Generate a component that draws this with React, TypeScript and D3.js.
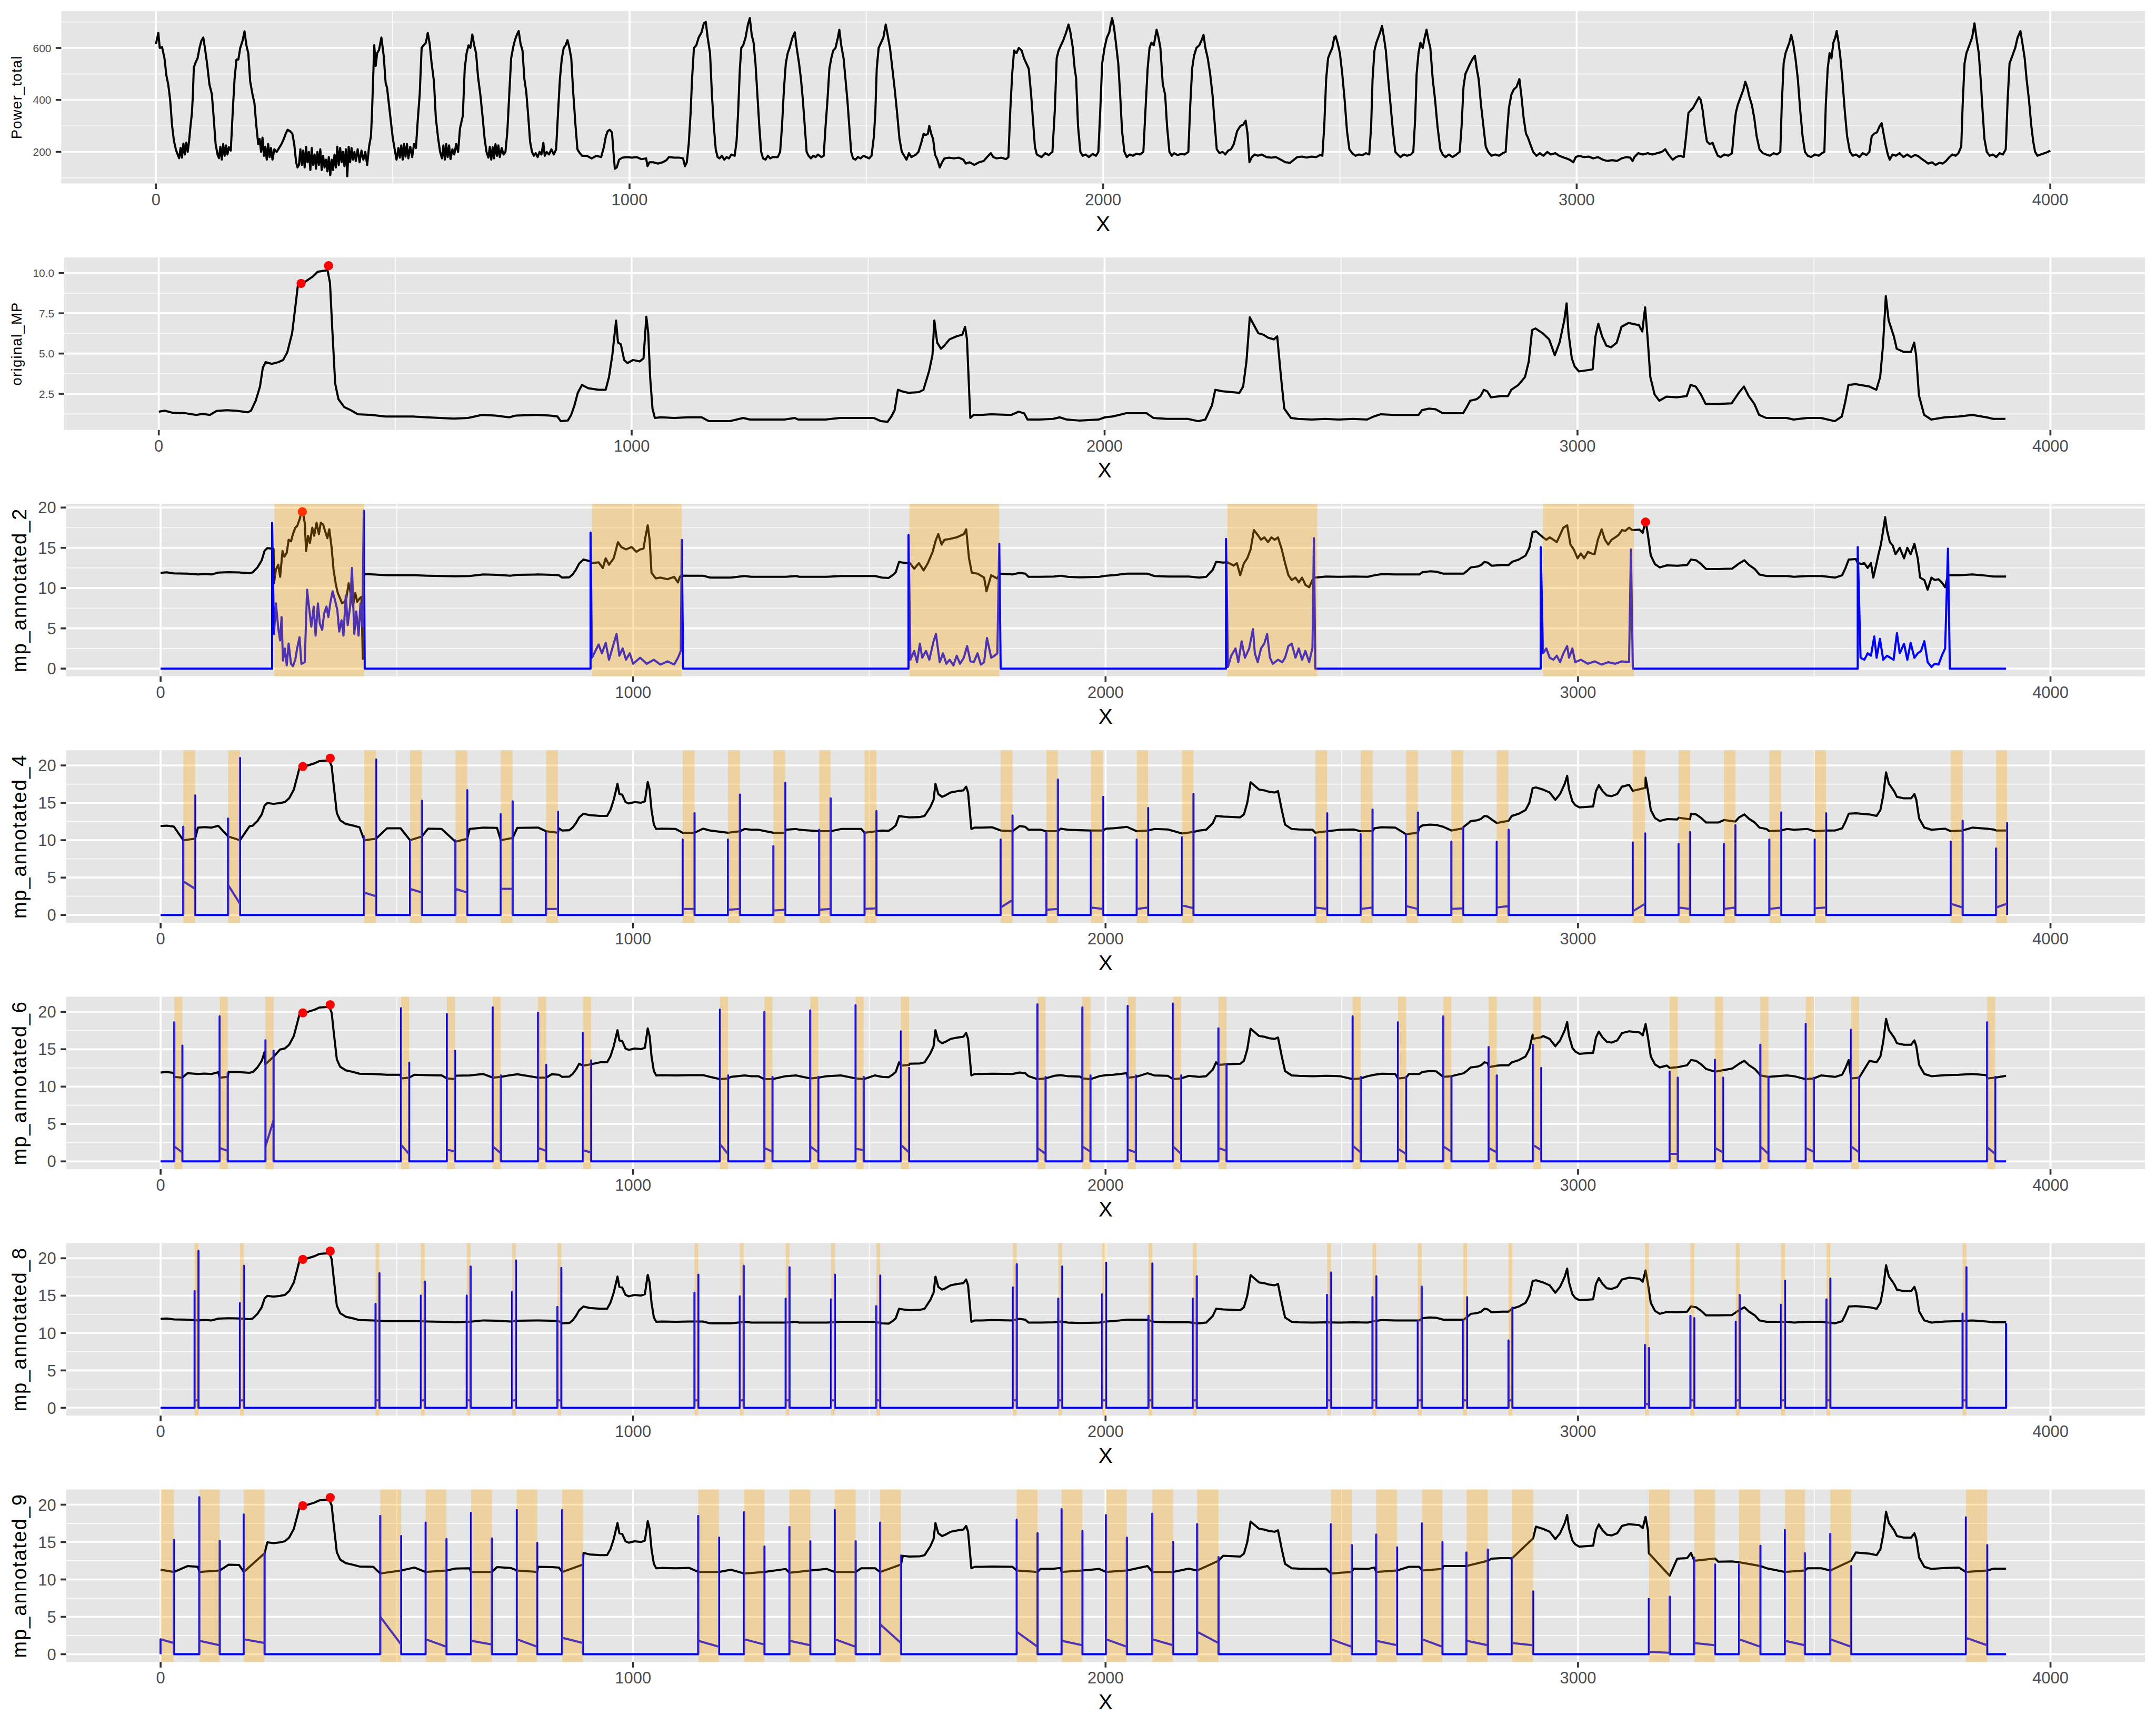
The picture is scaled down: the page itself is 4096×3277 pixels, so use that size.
import { useEffect } from "react";
import * as d3 from "d3";

type Pt = [number, number];
type Win = [number, number];

const W = 4500;
const H = 3600;
const ROW = H / 7;
const TOP = 22.9;
const PH = 360;
const RIGHT = 4477;
const FONT = "'Liberation Sans', Arial, Helvetica, sans-serif";

const X_LIMITS: [number, number] = [-200, 4200];
const X_TICKS = [0, 1000, 2000, 3000, 4000];
const X_MINOR = [500, 1500, 2500, 3500];

// Power_total
const powerTotal: Pt[] = [
  [0, 615], [3, 640], [5, 658], [8, 600], [13, 603], [18, 560], [22, 495], [26, 459], [30, 400], [34, 302], [38, 242], [42, 210], [45, 194], [49, 176], [52, 215], [55, 178], [58, 232], [61, 190], [64, 236], [67, 200], [70, 242], [73, 300], [76, 350], [78, 420], [80, 525], [84, 545], [88, 561], [92, 600], [96, 628], [100, 640], [104, 592], [108, 540], [113, 459], [118, 423], [122, 330], [126, 230], [130, 190], [133, 176], [136, 220], [139, 170], [142, 230], [145, 185], [148, 225], [151, 190], [154, 218], [158, 205], [162, 350], [166, 480], [170, 555], [174, 555], [178, 600], [183, 628], [187, 664], [191, 610], [195, 580], [199, 471], [204, 420], [208, 387], [212, 300], [216, 230], [219, 250], [222, 200], [225, 255], [228, 185], [231, 220], [234, 170], [237, 230], [240, 180], [243, 215], [246, 170], [250, 210], [255, 200], [260, 215], [265, 230], [270, 250], [274, 270], [278, 285], [283, 280], [288, 270], [292, 230], [296, 160], [299, 140], [302, 150], [305, 210], [308, 150], [311, 205], [314, 140], [317, 220], [320, 160], [323, 200], [326, 130], [329, 215], [332, 150], [335, 190], [338, 135], [341, 200], [344, 150], [347, 210], [350, 130], [353, 185], [356, 140], [359, 170], [362, 125], [365, 180], [368, 110], [371, 170], [374, 130], [377, 190], [380, 140], [383, 220], [386, 150], [389, 215], [392, 160], [395, 200], [398, 145], [401, 210], [404, 106], [407, 220], [410, 160], [413, 215], [416, 170], [419, 200], [422, 165], [426, 210], [430, 160], [434, 205], [438, 170], [442, 200], [446, 150], [450, 220], [454, 260], [456, 339], [458, 447], [461, 610], [464, 531], [467, 580], [471, 592], [476, 640], [481, 568], [485, 465], [488, 447], [494, 350], [500, 254], [505, 200], [508, 170], [512, 215], [515, 178], [518, 225], [521, 170], [524, 230], [527, 182], [530, 230], [533, 175], [537, 220], [541, 180], [545, 230], [549, 215], [553, 326], [557, 423], [561, 600], [565, 610], [570, 620], [574, 658], [578, 616], [582, 543], [587, 471], [591, 330], [596, 250], [600, 200], [604, 175], [607, 225], [610, 170], [613, 230], [616, 180], [619, 225], [622, 172], [626, 210], [630, 190], [634, 230], [638, 200], [642, 290], [648, 339], [652, 520], [656, 580], [660, 610], [664, 600], [668, 652], [672, 610], [676, 580], [680, 490], [685, 420], [690, 330], [694, 250], [698, 200], [702, 178], [705, 220], [708, 170], [711, 218], [714, 175], [717, 230], [720, 185], [723, 225], [726, 180], [730, 215], [734, 190], [738, 200], [742, 278], [746, 420], [750, 560], [754, 600], [758, 630], [762, 650], [766, 665], [770, 615], [774, 590], [778, 480], [782, 430], [786, 340], [790, 240], [794, 200], [798, 185], [802, 195], [806, 180], [810, 200], [814, 190], [818, 235], [821, 185], [825, 200], [830, 190], [835, 210], [840, 190], [845, 210], [849, 350], [853, 480], [857, 560], [861, 600], [865, 610], [869, 630], [873, 600], [877, 560], [881, 430], [886, 300], [890, 210], [895, 195], [900, 185], [910, 185], [920, 175], [930, 185], [940, 180], [946, 220], [950, 260], [954, 280], [958, 285], [963, 275], [966, 200], [969, 135], [973, 140], [978, 170], [985, 178], [995, 180], [1005, 178], [1015, 180], [1025, 172], [1035, 175], [1038, 145], [1042, 160], [1050, 160], [1060, 155], [1070, 160], [1078, 168], [1083, 180], [1095, 178], [1105, 178], [1113, 175], [1117, 145], [1121, 160], [1125, 230], [1129, 350], [1132, 480], [1136, 600], [1141, 610], [1146, 640], [1152, 660], [1157, 695], [1161, 700], [1165, 640], [1170, 580], [1174, 420], [1178, 300], [1182, 210], [1186, 180], [1190, 175], [1195, 185], [1200, 170], [1205, 180], [1210, 175], [1215, 190], [1222, 185], [1226, 240], [1229, 340], [1233, 520], [1236, 600], [1240, 610], [1245, 640], [1250, 690], [1254, 715], [1258, 650], [1262, 620], [1266, 540], [1270, 420], [1274, 300], [1278, 200], [1282, 175], [1287, 170], [1292, 185], [1297, 175], [1302, 180], [1308, 180], [1313, 180], [1318, 200], [1322, 300], [1326, 440], [1330, 540], [1334, 580], [1338, 600], [1344, 640], [1349, 660], [1353, 600], [1358, 540], [1362, 480], [1366, 400], [1370, 300], [1374, 200], [1378, 185], [1383, 175], [1388, 185], [1393, 180], [1398, 190], [1405, 180], [1410, 185], [1414, 300], [1418, 400], [1422, 520], [1426, 560], [1430, 590], [1435, 600], [1440, 640], [1443, 670], [1447, 610], [1452, 560], [1456, 480], [1460, 400], [1464, 300], [1468, 200], [1472, 175], [1477, 170], [1482, 180], [1488, 175], [1494, 185], [1500, 180], [1506, 175], [1511, 185], [1516, 260], [1519, 350], [1522, 520], [1526, 600], [1531, 620], [1536, 640], [1541, 690], [1545, 650], [1550, 600], [1555, 520], [1560, 440], [1565, 350], [1570, 250], [1575, 200], [1580, 185], [1585, 170], [1590, 195], [1595, 180], [1600, 185], [1605, 190], [1610, 200], [1616, 235], [1621, 270], [1626, 265], [1630, 270], [1633, 300], [1637, 270], [1641, 250], [1645, 190], [1650, 170], [1655, 140], [1660, 160], [1665, 175], [1675, 178], [1685, 175], [1695, 178], [1705, 170], [1710, 155], [1718, 160], [1728, 150], [1738, 160], [1748, 165], [1755, 180], [1763, 195], [1768, 180], [1775, 175], [1785, 178], [1795, 172], [1800, 180], [1804, 360], [1808, 500], [1812, 590], [1817, 580], [1822, 600], [1828, 590], [1833, 560], [1838, 540], [1843, 520], [1848, 420], [1852, 320], [1856, 220], [1860, 190], [1865, 185], [1870, 180], [1878, 195], [1885, 188], [1893, 200], [1898, 360], [1902, 560], [1906, 590], [1911, 610], [1916, 630], [1922, 660], [1927, 690], [1931, 660], [1936, 600], [1940, 520], [1943, 484], [1947, 300], [1952, 200], [1957, 185], [1963, 190], [1970, 180], [1978, 192], [1985, 185], [1990, 200], [1994, 360], [1998, 540], [2003, 600], [2008, 640], [2013, 660], [2016, 690], [2019, 715], [2023, 680], [2027, 620], [2032, 540], [2036, 420], [2040, 280], [2045, 200], [2050, 180], [2056, 190], [2063, 185], [2070, 193], [2078, 190], [2085, 200], [2090, 380], [2094, 520], [2098, 600], [2102, 620], [2107, 610], [2111, 650], [2113, 670], [2117, 640], [2121, 600], [2126, 460], [2131, 420], [2135, 300], [2140, 200], [2145, 185], [2150, 195], [2157, 188], [2165, 192], [2172, 190], [2180, 200], [2184, 380], [2188, 520], [2192, 570], [2197, 600], [2203, 610], [2208, 630], [2212, 650], [2216, 600], [2221, 560], [2226, 500], [2231, 420], [2236, 300], [2240, 210], [2246, 195], [2252, 200], [2258, 190], [2264, 205], [2270, 210], [2276, 230], [2283, 280], [2290, 300], [2296, 305], [2301, 320], [2305, 270], [2309, 160], [2314, 180], [2320, 190], [2327, 185], [2335, 190], [2345, 180], [2355, 178], [2365, 180], [2375, 170], [2385, 160], [2395, 158], [2403, 170], [2410, 180], [2420, 182], [2430, 178], [2440, 182], [2450, 180], [2458, 188], [2463, 185], [2467, 300], [2471, 480], [2475, 560], [2479, 580], [2484, 600], [2488, 640], [2491, 645], [2495, 620], [2500, 580], [2505, 500], [2510, 400], [2515, 280], [2520, 210], [2526, 195], [2533, 185], [2540, 190], [2548, 188], [2555, 195], [2562, 190], [2566, 300], [2569, 480], [2573, 590], [2577, 620], [2581, 640], [2585, 660], [2589, 685], [2593, 640], [2597, 590], [2602, 480], [2607, 380], [2612, 280], [2617, 200], [2622, 190], [2628, 180], [2635, 190], [2642, 185], [2650, 190], [2655, 200], [2659, 330], [2662, 500], [2666, 580], [2670, 620], [2675, 600], [2679, 640], [2683, 670], [2687, 630], [2691, 600], [2696, 480], [2701, 400], [2706, 300], [2712, 210], [2717, 190], [2723, 180], [2730, 190], [2738, 180], [2746, 190], [2753, 200], [2757, 300], [2761, 450], [2765, 500], [2770, 520], [2775, 540], [2781, 560], [2785, 570], [2789, 520], [2793, 480], [2798, 380], [2803, 300], [2808, 220], [2813, 200], [2820, 185], [2828, 190], [2836, 185], [2844, 195], [2850, 200], [2853, 280], [2857, 370], [2862, 420], [2867, 440], [2873, 450], [2879, 480], [2883, 420], [2888, 330], [2893, 270], [2897, 255], [2902, 230], [2908, 200], [2915, 185], [2922, 195], [2930, 185], [2938, 200], [2945, 190], [2955, 195], [2963, 185], [2970, 180], [2978, 175], [2985, 170], [2993, 160], [2998, 180], [3005, 185], [3015, 180], [3025, 182], [3035, 175], [3045, 180], [3055, 170], [3065, 165], [3075, 168], [3085, 165], [3095, 175], [3105, 180], [3113, 178], [3118, 165], [3122, 180], [3130, 195], [3140, 190], [3150, 195], [3160, 190], [3170, 195], [3180, 200], [3187, 210], [3192, 195], [3198, 180], [3203, 170], [3210, 180], [3218, 185], [3226, 180], [3231, 260], [3236, 350], [3241, 360], [3246, 370], [3252, 390], [3258, 410], [3262, 400], [3266, 360], [3270, 300], [3275, 240], [3281, 230], [3287, 235], [3292, 210], [3298, 185], [3304, 180], [3312, 190], [3320, 185], [3328, 195], [3332, 280], [3336, 350], [3340, 380], [3344, 400], [3348, 420], [3352, 440], [3356, 470], [3360, 450], [3365, 410], [3370, 380], [3375, 330], [3380, 260], [3386, 210], [3393, 195], [3400, 190], [3408, 185], [3416, 195], [3423, 190], [3430, 200], [3433, 380], [3437, 540], [3441, 580], [3445, 600], [3449, 620], [3453, 650], [3457, 620], [3462, 560], [3467, 480], [3472, 360], [3477, 260], [3482, 200], [3488, 185], [3495, 180], [3503, 190], [3511, 185], [3518, 195], [3523, 200], [3526, 380], [3530, 520], [3534, 580], [3538, 560], [3542, 620], [3546, 640], [3549, 665], [3553, 620], [3557, 560], [3561, 480], [3566, 360], [3571, 260], [3577, 200], [3583, 185], [3590, 190], [3597, 180], [3604, 195], [3612, 188], [3618, 200], [3623, 260], [3628, 270], [3634, 275], [3640, 300], [3644, 310], [3648, 270], [3652, 230], [3657, 190], [3661, 170], [3667, 190], [3674, 185], [3682, 195], [3690, 180], [3698, 190], [3706, 180], [3714, 188], [3720, 185], [3727, 175], [3735, 165], [3742, 155], [3750, 160], [3758, 150], [3766, 158], [3773, 155], [3780, 165], [3787, 180], [3793, 190], [3800, 185], [3806, 195], [3812, 220], [3815, 380], [3819, 540], [3823, 580], [3827, 600], [3831, 620], [3835, 640], [3840, 695], [3844, 640], [3849, 580], [3853, 480], [3857, 360], [3861, 250], [3866, 200], [3872, 185], [3879, 190], [3886, 180], [3893, 195], [3900, 190], [3906, 210], [3910, 400], [3914, 540], [3918, 560], [3922, 580], [3926, 600], [3931, 640], [3937, 665], [3941, 620], [3946, 560], [3950, 480], [3955, 400], [3960, 300], [3964, 240], [3968, 200], [3973, 185], [3980, 190], [3988, 195], [3995, 200], [4000, 205],
];

// original_MP
const originalMp: Pt[] = [
  [0, 1.39], [13, 1.45], [28, 1.33], [57, 1.29], [79, 1.19], [93, 1.25], [108, 1.19], [122, 1.43], [144, 1.48], [166, 1.44], [188, 1.35], [195, 1.45], [205, 2.07], [214, 2.95], [220, 4.12], [226, 4.47], [239, 4.36], [253, 4.47], [263, 4.6], [272, 5.1], [282, 6.27], [290, 8.2], [294, 9.2], [301, 9.3], [311, 9.49], [326, 9.79], [336, 10.08], [348, 10.14], [357, 10.17], [362, 9.4], [367, 6.46], [373, 3.14], [380, 2.16], [392, 1.68], [406, 1.48], [421, 1.23], [450, 1.19], [479, 1.09], [508, 1.09], [537, 1.09], [566, 1.04], [595, 1.0], [624, 0.96], [654, 1.0], [683, 1.19], [712, 1.15], [741, 1.04], [755, 1.15], [799, 1.19], [828, 1.15], [843, 1.09], [850, 0.8], [865, 0.84], [872, 1.19], [879, 1.78], [886, 2.56], [895, 3.05], [908, 2.85], [930, 2.75], [945, 2.75], [952, 3.54], [959, 4.9], [967, 7.05], [971, 5.68], [977, 5.58], [984, 4.6], [991, 4.41], [1003, 4.6], [1017, 4.51], [1025, 4.7], [1031, 7.29], [1035, 6.27], [1039, 3.54], [1044, 1.58], [1049, 1.0], [1061, 1.04], [1090, 1.0], [1119, 1.04], [1148, 1.04], [1163, 0.8], [1207, 0.8], [1236, 1.0], [1250, 0.9], [1265, 0.9], [1323, 0.9], [1345, 1.0], [1352, 0.9], [1410, 0.9], [1440, 1.0], [1483, 1.0], [1512, 1.0], [1527, 0.8], [1541, 0.76], [1549, 1.09], [1556, 1.48], [1563, 2.75], [1571, 2.66], [1585, 2.56], [1607, 2.6], [1617, 2.75], [1629, 3.92], [1636, 4.9], [1640, 7.05], [1646, 5.68], [1654, 5.3], [1661, 5.49], [1672, 5.88], [1687, 6.07], [1699, 6.17], [1705, 6.66], [1709, 5.88], [1716, 1.0], [1723, 1.19], [1738, 1.19], [1760, 1.23], [1803, 1.19], [1818, 1.39], [1830, 1.29], [1837, 0.9], [1862, 0.9], [1891, 0.94], [1905, 1.04], [1920, 0.9], [1946, 0.84], [1987, 0.9], [2001, 1.04], [2016, 1.09], [2031, 1.19], [2045, 1.29], [2089, 1.29], [2103, 1.0], [2132, 0.94], [2176, 0.94], [2198, 0.8], [2213, 0.9], [2227, 1.78], [2234, 2.75], [2249, 2.66], [2285, 2.56], [2293, 2.95], [2300, 4.51], [2307, 7.25], [2314, 6.86], [2325, 6.27], [2336, 6.17], [2346, 5.98], [2358, 5.88], [2365, 6.07], [2373, 3.54], [2380, 1.58], [2394, 1.0], [2409, 0.94], [2438, 0.9], [2467, 0.94], [2496, 0.9], [2525, 0.94], [2555, 0.9], [2569, 1.09], [2584, 1.23], [2613, 1.19], [2642, 1.19], [2664, 1.19], [2671, 1.48], [2686, 1.58], [2700, 1.54], [2715, 1.29], [2758, 1.29], [2766, 1.68], [2773, 2.07], [2787, 2.17], [2795, 2.36], [2802, 2.75], [2809, 2.66], [2817, 2.28], [2838, 2.36], [2853, 2.36], [2860, 2.75], [2875, 3.05], [2889, 3.54], [2897, 4.51], [2904, 6.46], [2911, 6.56], [2926, 6.27], [2940, 5.88], [2952, 4.9], [2962, 5.68], [2972, 7.05], [2977, 8.12], [2981, 6.27], [2988, 4.7], [2994, 4.2], [3003, 3.89], [3013, 3.93], [3032, 4.02], [3038, 6.07], [3044, 6.86], [3052, 6.07], [3061, 5.49], [3071, 5.39], [3083, 5.68], [3093, 6.66], [3108, 6.9], [3130, 6.76], [3137, 6.37], [3143, 7.87], [3148, 6.07], [3154, 3.54], [3163, 2.46], [3173, 2.07], [3188, 2.32], [3210, 2.28], [3231, 2.36], [3239, 3.05], [3250, 2.95], [3261, 2.46], [3271, 1.87], [3297, 1.87], [3326, 1.91], [3341, 2.56], [3352, 2.95], [3362, 2.36], [3374, 1.87], [3384, 1.19], [3399, 1.0], [3442, 1.0], [3457, 0.9], [3486, 1.0], [3515, 1.0], [3544, 0.8], [3559, 1.09], [3566, 1.97], [3573, 3.05], [3588, 3.1], [3617, 2.95], [3632, 2.75], [3640, 3.54], [3646, 5.49], [3652, 8.57], [3658, 7.05], [3669, 6.07], [3675, 5.3], [3690, 5.1], [3705, 5.1], [3712, 5.68], [3716, 4.9], [3722, 2.4], [3733, 1.19], [3748, 0.9], [3777, 1.04], [3806, 1.09], [3835, 1.19], [3865, 1.04], [3879, 0.94], [3905, 0.94],
];
const mpPeaks: Pt[] = [[301, 9.36], [359, 10.46]];

// mp_annotated_* curve outside the annotated windows (same in all five panels)
const annotatedBase: Pt[] = [
  [0, 11.89], [13, 11.95], [28, 11.83], [57, 11.79], [79, 11.69], [93, 11.75], [108, 11.69], [122, 11.93], [144, 11.98], [166, 11.94], [188, 11.85], [195, 11.95], [205, 12.57], [214, 13.45], [220, 14.62], [226, 14.97], [239, 14.86], [253, 14.97], [263, 15.1], [272, 15.6], [282, 16.77], [290, 18.7], [294, 19.7], [301, 19.8], [311, 19.99], [326, 20.29], [336, 20.58], [348, 20.64], [357, 20.67], [362, 19.9], [367, 16.96], [373, 13.64], [380, 12.66], [392, 12.18], [406, 11.98], [421, 11.73], [450, 11.69], [479, 11.59], [508, 11.59], [537, 11.59], [566, 11.54], [595, 11.5], [624, 11.46], [654, 11.5], [683, 11.69], [712, 11.65], [741, 11.54], [755, 11.65], [799, 11.69], [828, 11.65], [843, 11.59], [850, 11.3], [865, 11.34], [872, 11.69], [879, 12.28], [886, 13.06], [895, 13.55], [908, 13.35], [930, 13.25], [945, 13.25], [952, 14.04], [959, 15.4], [967, 17.55], [971, 16.18], [977, 16.08], [984, 15.1], [991, 14.91], [1003, 15.1], [1017, 15.01], [1025, 15.2], [1031, 17.79], [1035, 16.77], [1039, 14.04], [1044, 12.08], [1049, 11.5], [1061, 11.54], [1090, 11.5], [1119, 11.54], [1148, 11.54], [1163, 11.3], [1207, 11.3], [1236, 11.5], [1250, 11.4], [1265, 11.4], [1323, 11.4], [1345, 11.5], [1352, 11.4], [1410, 11.4], [1440, 11.5], [1483, 11.5], [1512, 11.5], [1527, 11.3], [1541, 11.26], [1549, 11.59], [1556, 11.98], [1563, 13.25], [1571, 13.16], [1585, 13.06], [1607, 13.1], [1617, 13.25], [1629, 14.42], [1636, 15.4], [1640, 17.55], [1646, 16.18], [1654, 15.8], [1661, 15.99], [1672, 16.38], [1687, 16.57], [1699, 16.67], [1705, 17.16], [1709, 16.38], [1716, 11.5], [1723, 11.69], [1738, 11.69], [1760, 11.73], [1803, 11.69], [1818, 11.89], [1830, 11.79], [1837, 11.4], [1862, 11.4], [1891, 11.44], [1905, 11.54], [1920, 11.4], [1946, 11.34], [1987, 11.4], [2001, 11.54], [2016, 11.59], [2031, 11.69], [2045, 11.79], [2089, 11.79], [2103, 11.5], [2132, 11.44], [2176, 11.44], [2198, 11.3], [2213, 11.4], [2227, 12.28], [2234, 13.25], [2249, 13.16], [2285, 13.06], [2293, 13.45], [2300, 15.01], [2307, 17.75], [2314, 17.36], [2325, 16.77], [2336, 16.67], [2346, 16.48], [2358, 16.38], [2365, 16.57], [2373, 14.04], [2380, 12.08], [2394, 11.5], [2409, 11.44], [2438, 11.4], [2467, 11.44], [2496, 11.4], [2525, 11.44], [2555, 11.4], [2569, 11.59], [2584, 11.73], [2613, 11.69], [2642, 11.69], [2664, 11.69], [2671, 11.98], [2686, 12.08], [2700, 12.04], [2715, 11.79], [2758, 11.79], [2766, 12.18], [2773, 12.57], [2787, 12.67], [2795, 12.86], [2802, 13.25], [2809, 13.16], [2817, 12.78], [2838, 12.86], [2853, 12.86], [2860, 13.25], [2875, 13.55], [2889, 14.04], [2897, 15.01], [2904, 16.96], [2911, 17.06], [2926, 16.77], [2940, 16.38], [2952, 15.4], [2962, 16.18], [2972, 17.55], [2977, 18.62], [2981, 16.77], [2988, 15.2], [2994, 14.7], [3003, 14.39], [3013, 14.43], [3032, 14.52], [3038, 16.57], [3044, 17.36], [3052, 16.57], [3061, 15.99], [3071, 15.89], [3083, 16.18], [3093, 17.16], [3108, 17.4], [3130, 17.26], [3137, 16.87], [3143, 18.37], [3148, 16.57], [3154, 14.04], [3163, 12.96], [3173, 12.57], [3188, 12.82], [3210, 12.78], [3231, 12.86], [3239, 13.55], [3250, 13.45], [3261, 12.96], [3271, 12.37], [3297, 12.37], [3326, 12.41], [3341, 13.06], [3352, 13.45], [3362, 12.86], [3374, 12.37], [3384, 11.69], [3399, 11.5], [3442, 11.5], [3457, 11.4], [3486, 11.5], [3515, 11.5], [3544, 11.3], [3559, 11.59], [3566, 12.47], [3573, 13.55], [3588, 13.6], [3617, 13.45], [3632, 13.25], [3640, 14.04], [3646, 15.99], [3652, 19.07], [3658, 17.55], [3669, 16.57], [3675, 15.8], [3690, 15.6], [3705, 15.6], [3712, 16.18], [3716, 15.4], [3722, 12.9], [3733, 11.69], [3748, 11.4], [3777, 11.54], [3806, 11.59], [3835, 11.69], [3865, 11.54], [3879, 11.44], [3906, 11.44],
];
const blueFlat: Pt[] = [[0, 0], [3906, 0]];
const annotatedPeaks: Pt[] = [[301, 19.86], [359, 20.96]];

// mp_annotated_2
const annot2Windows: Win[] = [[241, 431], [913, 1103], [1585, 1775], [2258, 2448], [2926, 3118]];
const annot2Peaks: Pt[] = [[300, 19.48], [3143, 18.2]];
const annot2Black: Pt[][] = [
  [[240, 10.6], [244, 12.3], [249, 12.9], [253, 11.4], [258, 14.6], [262, 13.9], [267, 14.4], [271, 16.0], [276, 15.8], [280, 16.7], [285, 17.5], [289, 17.7], [294, 18.5], [298, 19.4], [301, 19.5], [305, 18.1], [308, 14.6], [312, 16.5], [316, 15.6], [321, 17.5], [325, 16.5], [330, 18.1], [335, 16.7], [339, 18.1], [344, 17.9], [348, 17.1], [353, 16.2], [357, 17.3], [362, 15.0], [366, 12.3], [371, 10.4], [375, 9.4], [380, 8.7], [384, 8.1], [389, 8.3], [393, 8.7], [398, 10.6], [403, 9.1], [407, 7.7], [412, 9.4], [416, 8.3], [421, 8.7], [425, 8.9], [428, 1.2], [431, 11.75]],
  [[913, 13.1], [927, 13.2], [936, 12.5], [942, 13.7], [949, 12.9], [959, 13.7], [968, 15.7], [975, 15.1], [985, 14.8], [997, 15.1], [1007, 14.5], [1015, 14.8], [1022, 14.9], [1026, 16.3], [1031, 17.8], [1035, 16.0], [1039, 11.9], [1048, 11.2], [1058, 11.3], [1073, 11.1], [1087, 11.4], [1095, 10.7], [1099, 11.4], [1103, 11.55]],
  [[1586, 13.1], [1595, 12.4], [1605, 13.1], [1615, 12.2], [1624, 13.1], [1634, 14.5], [1641, 16.0], [1646, 16.7], [1653, 15.4], [1659, 16.0], [1670, 16.1], [1685, 16.3], [1700, 16.7], [1705, 17.3], [1711, 13.7], [1717, 11.9], [1729, 11.8], [1743, 11.3], [1748, 9.6], [1758, 11.6], [1770, 11.2], [1777, 11.8]],
  [[2258, 13.2], [2261, 13.1], [2271, 12.8], [2278, 13.1], [2285, 11.6], [2293, 13.1], [2300, 13.7], [2307, 14.8], [2314, 17.2], [2322, 16.6], [2329, 16.0], [2336, 16.3], [2344, 15.7], [2351, 16.3], [2358, 16.0], [2365, 16.3], [2373, 14.8], [2380, 13.1], [2387, 11.6], [2394, 11.0], [2402, 11.3], [2409, 10.7], [2416, 11.3], [2423, 10.4], [2431, 10.1], [2438, 11.0], [2444, 11.3]],
  [[2926, 16.3], [2933, 16.0], [2940, 16.3], [2948, 16.0], [2955, 15.7], [2962, 16.6], [2969, 17.5], [2977, 17.8], [2984, 15.4], [2991, 14.8], [2999, 13.7], [3006, 14.3], [3013, 13.7], [3021, 14.5], [3028, 14.3], [3035, 14.2], [3042, 16.0], [3050, 17.3], [3057, 16.0], [3064, 15.4], [3071, 16.0], [3079, 16.3], [3086, 16.6], [3093, 17.2], [3100, 17.1], [3108, 17.5], [3115, 17.2]],
  [[3592, 13.1], [3600, 13.0], [3606, 13.1], [3613, 12.5], [3620, 13.1], [3625, 11.3], [3632, 13.1], [3636, 14.2], [3641, 15.4], [3646, 17.2], [3650, 18.8], [3654, 17.2], [3660, 15.7], [3666, 15.3], [3672, 14.2], [3681, 15.0], [3690, 13.7], [3697, 15.0], [3704, 14.2], [3712, 15.5], [3719, 13.7], [3724, 11.3], [3733, 11.0], [3740, 9.8], [3748, 11.3], [3755, 11.0], [3763, 11.1], [3770, 10.7], [3777, 10.1], [3783, 11.6]],
];
const annot2Blue: Pt[][] = [
  [[236, 0], [236, 18.1], [240, 4.3], [244, 8.1], [249, 5.0], [253, 3.5], [256, 6.4], [259, 1.0], [263, 2.5], [267, 0.4], [271, 3.1], [276, 0.6], [280, 0.3], [285, 1.1], [289, 2.5], [294, 3.9], [298, 0.6], [305, 0.8], [310, 9.8], [314, 7.7], [319, 5.2], [324, 7.7], [328, 4.1], [333, 8.1], [337, 5.6], [342, 4.8], [346, 6.8], [351, 7.7], [355, 6.4], [359, 8.1], [364, 9.6], [369, 8.5], [374, 7.3], [378, 4.6], [383, 6.0], [387, 4.1], [392, 9.1], [396, 5.4], [401, 7.7], [405, 12.5], [410, 4.3], [414, 7.1], [419, 4.1], [423, 8.1], [427, 5.2], [430, 19.6], [432, 0]],
  [[910, 0], [910, 16.9], [913, 1.35], [927, 3.0], [934, 1.9], [942, 3.2], [949, 1.1], [956, 2.5], [965, 4.3], [971, 1.6], [978, 2.5], [985, 1.1], [993, 1.9], [1000, 0.6], [1015, 1.35], [1029, 0.6], [1044, 1.1], [1058, 0.5], [1073, 0.9], [1087, 0.5], [1095, 1.35], [1101, 2.2], [1103, 16.0], [1106, 0]],
  [[1583, 0], [1583, 16.6], [1587, 1.1], [1595, 2.2], [1601, 0.8], [1607, 3.1], [1612, 1.35], [1620, 2.2], [1627, 1.1], [1636, 3.4], [1641, 4.3], [1649, 0.8], [1656, 1.9], [1663, 0.6], [1670, 1.1], [1678, 0.4], [1685, 1.6], [1692, 0.6], [1700, 1.35], [1707, 2.8], [1714, 0.9], [1721, 0.8], [1729, 1.9], [1736, 0.5], [1743, 0.8], [1749, 3.8], [1758, 1.35], [1765, 1.6], [1771, 1.9], [1775, 15.5], [1778, 0]],
  [[2255, 0], [2255, 16.1], [2259, 0.2], [2266, 1.6], [2275, 2.5], [2281, 0.8], [2288, 3.4], [2295, 1.35], [2304, 2.5], [2312, 4.9], [2316, 1.9], [2322, 0.8], [2329, 2.5], [2336, 3.1], [2342, 4.3], [2348, 1.35], [2354, 0.6], [2365, 1.1], [2374, 0.8], [2380, 1.35], [2387, 2.8], [2394, 3.1], [2402, 1.35], [2409, 2.5], [2416, 1.1], [2423, 2.2], [2431, 0.8], [2438, 2.6], [2441, 16.2], [2444, 0]],
  [[2921, 0], [2921, 15.1], [2926, 1.9], [2933, 2.5], [2940, 1.35], [2948, 1.1], [2955, 1.6], [2962, 0.8], [2969, 1.9], [2977, 2.8], [2981, 1.35], [2988, 2.5], [2994, 0.8], [3006, 1.1], [3021, 0.6], [3035, 0.9], [3050, 0.5], [3064, 0.8], [3079, 0.6], [3093, 0.9], [3108, 0.8], [3112, 14.8], [3116, 0]],
  [[3592, 0], [3592, 15.1], [3598, 1.35], [3606, 1.1], [3613, 1.9], [3620, 1.6], [3627, 4.0], [3632, 1.35], [3639, 3.7], [3646, 1.1], [3654, 1.6], [3661, 1.35], [3668, 1.1], [3675, 4.4], [3681, 1.9], [3690, 3.1], [3697, 1.1], [3704, 3.2], [3712, 1.35], [3719, 1.9], [3726, 2.2], [3733, 3.4], [3740, 0.8], [3748, 0.2], [3755, 0.6], [3763, 0.5], [3770, 1.6], [3777, 2.5], [3783, 14.9], [3787, 0]],
];

// mp_annotated_4: windows, blue [entry, inside start, inside end, exit spike], black [start, end]
const annot4Windows: Win[] = [[48, 73], [143, 168], [431, 456], [528, 553], [624, 649], [720, 745], [816, 841], [1105, 1130], [1201, 1226], [1297, 1322], [1394, 1418], [1490, 1515], [1778, 1803], [1875, 1899], [1969, 1995], [2066, 2090], [2162, 2186], [2444, 2469], [2540, 2565], [2636, 2661], [2732, 2757], [2828, 2853], [3116, 3142], [3213, 3237], [3309, 3333], [3405, 3430], [3501, 3525], [3789, 3814], [3885, 3908]];
const annot4Blue: number[][] = [[11.8, 4.5, 3.5, 16.0], [12.9, 4.0, 1.5, 21.0], [10.5, 3.0, 2.5, 20.8], [10.0, 3.5, 3.0, 15.3], [10.0, 3.5, 3.0, 16.7], [13.5, 3.5, 3.5, 15.2], [11.0, 0.8, 0.8, 13.8], [10.1, 0.8, 0.8, 13.6], [10.1, 0.7, 0.8, 16.1], [9.2, 0.6, 0.7, 17.7], [11.4, 0.7, 0.8, 15.6], [11.1, 0.8, 0.9, 13.9], [10.1, 1.0, 2.0, 13.3], [11.1, 0.7, 0.8, 18.1], [11.1, 1.0, 0.8, 15.8], [10.1, 0.8, 1.0, 14.3], [10.4, 1.3, 0.9, 16.2], [10.4, 1.0, 0.8, 13.6], [10.8, 0.8, 1.0, 14.1], [10.8, 1.2, 0.8, 13.7], [9.8, 0.8, 0.9, 11.7], [9.8, 1.0, 1.2, 11.4], [9.7, 0.5, 1.5, 10.9], [9.5, 1.0, 0.8, 11.1], [9.5, 0.8, 1.0, 12.0], [10.1, 0.8, 1.0, 13.7], [10.1, 0.9, 1.0, 13.6], [9.8, 1.5, 1.0, 12.6], [8.9, 1.0, 1.5, 12.3]];
const annot4Black: number[][] = [[10.0, 10.2], [10.5, 10.0], [10.0, 10.2], [10.0, 10.5], [9.8, 10.2], [10.0, 10.3], [11.2, 11.0], [11.0, 11.0], [11.0, 11.2], [11.0, 11.0], [11.2, 11.2], [11.0, 11.2], [11.3, 11.2], [11.2, 11.2], [11.3, 11.3], [11.2, 11.3], [10.9, 11.1], [11.0, 11.2], [11.2, 11.2], [10.8, 11.0], [11.3, 11.6], [12.3, 12.6], [16.6, 17.0], [13.0, 12.8], [12.7, 12.5], [11.2, 11.3], [11.2, 11.3], [11.2, 11.3], [11.3, 11.3]];

// mp_annotated_6
const annot6Windows: Win[] = [[29, 46], [125, 142], [222, 239], [509, 526], [606, 623], [703, 720], [799, 816], [894, 911], [1184, 1201], [1278, 1295], [1375, 1392], [1471, 1488], [1567, 1584], [1856, 1873], [1951, 1968], [2047, 2064], [2143, 2160], [2239, 2256], [2523, 2540], [2619, 2636], [2715, 2732], [2811, 2828], [2905, 2922], [3194, 3211], [3290, 3307], [3386, 3403], [3482, 3499], [3578, 3595], [3866, 3883]];
const annot6Blue: number[][] = [[18.6, 2.0, 1.2, 15.5], [19.4, 1.8, 1.4, 11.8], [16.2, 2.0, 5.5, 14.8], [20.5, 2.2, 1.0, 13.2], [19.7, 1.6, 1.3, 14.8], [20.6, 2.0, 1.1, 11.5], [19.9, 1.8, 1.4, 12.9], [17.2, 1.5, 1.2, 13.5], [20.3, 2.3, 1.0, 11.5], [20.0, 1.8, 1.3, 11.3], [20.2, 2.0, 1.2, 11.3], [20.9, 1.7, 1.5, 11.3], [17.4, 2.2, 1.2, 12.5], [21.0, 1.8, 1.0, 11.3], [20.6, 2.0, 1.3, 11.5], [20.8, 1.6, 1.2, 11.5], [21.1, 2.0, 1.0, 11.5], [17.8, 1.8, 1.4, 13.0], [19.4, 2.1, 1.2, 11.3], [18.6, 1.7, 1.0, 11.3], [19.4, 2.0, 1.3, 11.3], [15.3, 1.8, 1.2, 11.5], [15.6, 2.2, 1.5, 12.5], [12.0, 1.0, 1.0, 11.2], [13.6, 1.8, 1.2, 11.2], [15.6, 2.0, 1.0, 11.3], [18.4, 1.8, 1.3, 11.2], [17.6, 2.0, 1.2, 11.3], [18.6, 1.9, 1.0, 11.3]];
const annot6Black: number[][] = [[11.3, 11.2], [11.2, 11.3], [13.0, 14.0], [11.1, 11.2], [11.1, 11.0], [11.2, 11.3], [11.2, 11.2], [12.8, 13.0], [11.0, 11.1], [11.0, 11.0], [11.1, 11.2], [11.1, 11.0], [12.8, 12.9], [11.0, 11.1], [11.1, 11.0], [11.2, 11.3], [11.0, 11.1], [12.9, 13.0], [11.0, 11.1], [11.1, 11.2], [11.3, 11.4], [12.6, 12.8], [16.4, 16.6], [12.5, 12.6], [12.0, 12.2], [11.5, 11.3], [11.0, 11.1], [11.1, 11.2], [11.1, 11.2]];

// mp_annotated_8
const annot8Windows: Win[] = [[72, 80], [168, 176], [455, 463], [551, 559], [648, 656], [744, 752], [840, 848], [1130, 1138], [1226, 1234], [1323, 1331], [1419, 1427], [1515, 1523], [1804, 1812], [1900, 1908], [1993, 2001], [2091, 2099], [2185, 2193], [2469, 2477], [2565, 2573], [2661, 2669], [2757, 2765], [2853, 2861], [3142, 3150], [3238, 3246], [3334, 3342], [3430, 3438], [3526, 3534], [3814, 3822]];
const annot8Blue: number[][] = [[15.6, 1.0, 1.0, 21.0], [14.0, 1.0, 1.0, 19.0], [13.9, 1.0, 1.0, 18.0], [15.0, 1.0, 1.0, 16.9], [15.0, 1.0, 1.0, 18.9], [15.5, 1.0, 1.0, 19.7], [13.5, 1.0, 1.0, 18.7], [15.4, 1.0, 1.0, 17.8], [14.9, 1.0, 1.0, 19.0], [14.6, 1.0, 1.0, 18.8], [14.5, 1.0, 1.0, 17.8], [13.6, 1.0, 1.0, 17.7], [16.1, 1.0, 1.0, 19.2], [14.6, 1.0, 1.0, 18.9], [15.2, 1.0, 1.0, 19.4], [12.3, 1.0, 1.0, 19.3], [14.6, 1.0, 1.0, 17.6], [15.1, 1.0, 1.0, 18.1], [14.8, 1.0, 1.0, 17.6], [11.6, 1.0, 1.0, 16.2], [11.6, 1.0, 1.0, 14.8], [9.0, 1.0, 1.0, 13.4], [8.4, 0.5, 0.5, 8.0], [12.3, 1.0, 1.0, 12.0], [11.5, 1.0, 1.0, 15.1], [13.8, 1.0, 1.0, 17.0], [14.5, 1.0, 1.0, 17.3], [12.6, 1.0, 1.0, 18.8]];
const annot8Tail: Pt[] = [[0, 0], [3906, 0], [3906, 11.3]];

// mp_annotated_9
const annot9Windows: Win[] = [[0, 28], [82, 125], [176, 220], [465, 509], [561, 605], [657, 701], [754, 797], [850, 894], [1138, 1182], [1235, 1278], [1331, 1375], [1427, 1471], [1523, 1567], [1812, 1856], [1907, 1951], [2001, 2045], [2099, 2143], [2194, 2239], [2477, 2521], [2573, 2617], [2670, 2713], [2764, 2809], [2860, 2905], [3150, 3194], [3246, 3290], [3341, 3386], [3438, 3480], [3534, 3578], [3821, 3866]];
const annot9Blue: number[][] = [[0.8, 2.0, 1.5, 15.3], [21.0, 1.8, 1.2, 15.2], [18.7, 2.0, 1.5, 13.5], [18.5, 5.0, 1.3, 15.8], [17.6, 2.0, 1.0, 15.4], [18.9, 1.8, 1.3, 15.5], [19.3, 2.0, 1.0, 14.9], [19.3, 2.2, 1.5, 13.3], [18.5, 1.8, 1.0, 15.6], [19.0, 2.0, 1.3, 14.4], [17.0, 1.8, 1.2, 15.1], [19.3, 2.0, 1.0, 15.1], [17.6, 4.0, 1.5, 13.2], [18.0, 3.0, 1.0, 16.2], [19.4, 1.8, 1.2, 16.5], [18.6, 2.0, 1.0, 15.6], [18.8, 2.0, 1.2, 15.0], [17.4, 3.0, 1.5, 13.0], [17.4, 2.0, 1.0, 14.6], [16.0, 1.8, 1.2, 14.3], [17.5, 2.0, 1.0, 15.0], [13.6, 1.8, 1.2, 14.0], [12.9, 1.5, 1.2, 8.4], [7.4, 0.3, 0.2, 7.7], [12.9, 1.5, 1.2, 12.0], [12.0, 2.0, 1.0, 14.5], [16.6, 1.8, 1.2, 13.5], [16.1, 2.0, 1.0, 11.8], [18.3, 2.2, 1.2, 14.6]];
const annot9Black: number[][] = [[11.3, 11.0], [11.0, 11.2], [11.0, 13.5], [10.8, 11.2], [11.0, 11.2], [11.0, 11.0], [11.2, 11.0], [11.0, 12.0], [11.0, 11.0], [10.8, 11.0], [10.9, 11.2], [11.0, 11.0], [11.0, 12.0], [11.2, 11.0], [11.0, 11.2], [11.0, 11.2], [11.0, 11.0], [11.2, 12.5], [10.8, 11.0], [11.0, 11.2], [11.2, 11.4], [11.8, 12.5], [12.8, 15.5], [13.5, 10.5], [12.5, 12.8], [12.3, 11.8], [11.0, 11.2], [11.2, 12.5], [11.0, 11.2]];

// replace the stretches of `base` covered by each segment with that segment
function splice(base: Pt[], segs: Pt[][]): Pt[] {
  const ranges = segs.map((s) => [s[0][0], s[s.length - 1][0]]);
  const out: Pt[] = base.filter((p) => !ranges.some(([a, b]) => p[0] >= a && p[0] <= b));
  segs.forEach((s) => out.push(...s));
  return out.sort((a, b) => a[0] - b[0]);
}

const blueSegs = (wins: Win[], vals: number[][]): Pt[][] =>
  wins.map(([s, e], i) => [[s, 0], [s, vals[i][0]], [s, vals[i][1]], [e, vals[i][2]], [e, vals[i][3]], [e, 0]]);

const blackSegs = (wins: Win[], vals: number[][]): Pt[][] =>
  wins.map(([s, e], i) => [[s, vals[i][0]], [e, vals[i][1]]]);

type PanelSpec = {
  title: string;
  left: number;
  yDomain: [number, number];
  yTicks: number[];
  yMinor: number[];
  fmt: (v: number) => string;
  small: boolean;
  black: Pt[];
  blue?: Pt[];
  dots: Pt[];
  windows: Win[];
};

const ANN_DOMAIN: [number, number] = [-1.04, 22.03];
const ANN_TICKS = [0, 5, 10, 15, 20];
const ANN_MINOR = [2.5, 7.5, 12.5, 17.5];
const fmtInt = d3.format("d");

const panels: PanelSpec[] = [
  { title: "Power_total", left: 127.8, yDomain: [78.3, 742], yTicks: [200, 400, 600], yMinor: [100, 300, 500, 700], fmt: fmtInt, small: true, black: powerTotal, dots: [], windows: [] },
  { title: "original_MP", left: 134, yDomain: [0.256, 10.97], yTicks: [2.5, 5, 7.5, 10], yMinor: [1.25, 3.75, 6.25, 8.75], fmt: d3.format(".1f"), small: true, black: originalMp, dots: mpPeaks, windows: [] },
  { title: "mp_annotated_2", left: 138, yDomain: [-0.96, 20.46], yTicks: ANN_TICKS, yMinor: ANN_MINOR, fmt: fmtInt, small: false, black: splice(annotatedBase, annot2Black), blue: splice(blueFlat, annot2Blue), dots: annot2Peaks, windows: annot2Windows },
  { title: "mp_annotated_4", left: 138, yDomain: ANN_DOMAIN, yTicks: ANN_TICKS, yMinor: ANN_MINOR, fmt: fmtInt, small: false, black: splice(annotatedBase, blackSegs(annot4Windows, annot4Black)), blue: splice(blueFlat, blueSegs(annot4Windows, annot4Blue)), dots: annotatedPeaks, windows: annot4Windows },
  { title: "mp_annotated_6", left: 138, yDomain: ANN_DOMAIN, yTicks: ANN_TICKS, yMinor: ANN_MINOR, fmt: fmtInt, small: false, black: splice(annotatedBase, blackSegs(annot6Windows, annot6Black)), blue: splice(blueFlat, blueSegs(annot6Windows, annot6Blue)), dots: annotatedPeaks, windows: annot6Windows },
  { title: "mp_annotated_8", left: 138, yDomain: ANN_DOMAIN, yTicks: ANN_TICKS, yMinor: ANN_MINOR, fmt: fmtInt, small: false, black: annotatedBase, blue: splice(annot8Tail, blueSegs(annot8Windows, annot8Blue)), dots: annotatedPeaks, windows: annot8Windows },
  { title: "mp_annotated_9", left: 138, yDomain: ANN_DOMAIN, yTicks: ANN_TICKS, yMinor: ANN_MINOR, fmt: fmtInt, small: false, black: splice(annotatedBase, blackSegs(annot9Windows, annot9Black)), blue: splice(blueFlat, blueSegs(annot9Windows, annot9Blue)), dots: annotatedPeaks, windows: annot9Windows },
];

function Panel({ spec, index }: { spec: PanelSpec; index: number }) {
  const top = TOP;
  const bottom = TOP + PH;
  const x = d3.scaleLinear().domain(X_LIMITS).range([spec.left, RIGHT]);
  const y = d3.scaleLinear().domain(spec.yDomain).range([bottom, top]);
  const line = d3.line<Pt>().x((d) => x(d[0])).y((d) => y(d[1]));
  const tickFs = spec.small ? 23 : 34;
  const titleFs = spec.small ? 30 : 42;
  const titleX = spec.small ? 45 : 55;
  const cx = (spec.left + RIGHT) / 2;

  return (
    <g transform={`translate(0, ${index * ROW})`}>
      <rect x={spec.left} y={top} width={RIGHT - spec.left} height={PH} fill="#E5E5E5" />
      {spec.yMinor.map((v) => (
        <line key={`ym${v}`} x1={spec.left} x2={RIGHT} y1={y(v)} y2={y(v)} stroke="#FAFAFA" strokeWidth={2} />
      ))}
      {X_MINOR.map((v) => (
        <line key={`xm${v}`} x1={x(v)} x2={x(v)} y1={top} y2={bottom} stroke="#FAFAFA" strokeWidth={2} />
      ))}
      {spec.yTicks.map((v) => (
        <line key={`yg${v}`} x1={spec.left} x2={RIGHT} y1={y(v)} y2={y(v)} stroke="#FFFFFF" strokeWidth={4} />
      ))}
      {X_TICKS.map((v) => (
        <line key={`xg${v}`} x1={x(v)} x2={x(v)} y1={top} y2={bottom} stroke="#FFFFFF" strokeWidth={4} />
      ))}
      <path d={line(spec.black) ?? ""} fill="none" stroke="#000000" strokeWidth={4.4} strokeLinejoin="round" />
      {spec.blue && (
        <path d={line(spec.blue) ?? ""} fill="none" stroke="#0000FF" strokeWidth={4.4} strokeLinejoin="round" />
      )}
      {spec.dots.map(([dx, dy], i) => (
        <circle key={`d${i}`} cx={x(dx)} cy={y(dy)} r={9.5} fill="#FF0000" />
      ))}
      {spec.windows.map(([s, e], i) => (
        <rect key={`w${i}`} x={x(s)} y={top} width={x(e) - x(s)} height={PH} fill="#FFA500" fillOpacity={0.3} />
      ))}
      {spec.yTicks.map((v) => (
        <g key={`yt${v}`}>
          <line x1={spec.left - 11.5} x2={spec.left} y1={y(v)} y2={y(v)} stroke="#333333" strokeWidth={4} />
          <text x={spec.left - 20.7} y={y(v) + tickFs * 0.36} textAnchor="end" fontSize={tickFs} fill="#4D4D4D" fontFamily={FONT}>
            {spec.fmt(v)}
          </text>
        </g>
      ))}
      {X_TICKS.map((v) => (
        <g key={`xt${v}`}>
          <line x1={x(v)} x2={x(v)} y1={bottom} y2={bottom + 11.5} stroke="#333333" strokeWidth={4} />
          <text x={x(v)} y={bottom + 45} textAnchor="middle" fontSize={34} fill="#4D4D4D" fontFamily={FONT}>
            {fmtInt(v)}
          </text>
        </g>
      ))}
      <text x={cx} y={bottom + 99} textAnchor="middle" fontSize={44} fill="#000000" fontFamily={FONT}>
        X
      </text>
      <text
        transform={`translate(${titleX}, ${(top + bottom) / 2}) rotate(-90)`}
        textAnchor="middle"
        fontSize={titleFs}
        letterSpacing={spec.small ? 1.5 : 2}
        fill="#000000"
        fontFamily={FONT}
      >
        {spec.title}
      </text>
    </g>
  );
}

export default function App() {
  useEffect(() => {
    document.body.style.margin = "0";
  }, []);

  return (
    <svg
      width={4096}
      height={3277}
      viewBox={`0 0 ${W} ${H}`}
      style={{ position: "absolute", left: 0, top: 0, display: "block", background: "#FFFFFF" }}
    >
      <rect x={0} y={0} width={W} height={H} fill="#FFFFFF" />
      {panels.map((p, i) => (
        <Panel key={p.title} spec={p} index={i} />
      ))}
    </svg>
  );
}
